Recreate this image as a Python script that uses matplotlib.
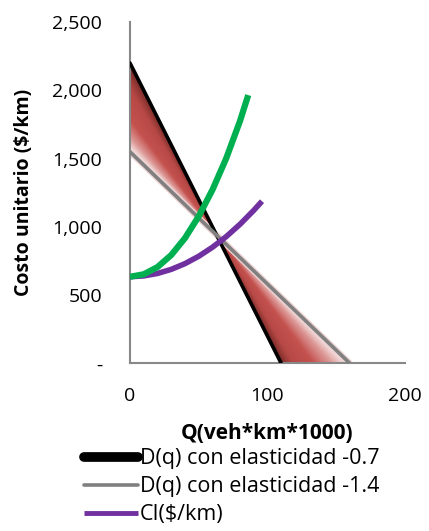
import matplotlib
matplotlib.use("Agg")
import matplotlib.pyplot as plt
import numpy as np
from matplotlib.colors import LinearSegmentedColormap
from matplotlib.lines import Line2D
from matplotlib.ticker import FuncFormatter

plt.rcParams['font.family'] = ['Open Sans', 'DejaVu Sans']

# demand lines (endpoints)
q_d07 = [0, 110]
p_d07 = [2200, 0]
q_d14 = [0, 160]
p_d14 = [1550, 0]

# cost curves
q_green = [0, 10, 20, 30, 40, 50, 60, 70, 80, 86]
c_green = [635, 653, 706, 794, 918, 1078, 1272, 1502, 1775, 1965]
q_ci = [0, 10, 20, 30, 40, 50, 60, 70, 80, 90, 96]
c_ci = [635, 641, 659, 689, 731, 785, 851, 929, 1019, 1121, 1188]

labels = ['D(q) con elasticidad -0.7', 'D(q) con elasticidad -1.4', 'CI($/km)']
xticks = [0, 100, 200]
yticks = [0, 500, 1000, 1500, 2000, 2500]

fig = plt.figure(figsize=(4.29, 5.31), dpi=100)
ax = fig.add_axes([0.303, 0.3155, 0.641, 0.643])

# gradient band between the two demand lines
qq = np.linspace(0, q_d14[-1], 600)
d1 = np.clip(np.interp(qq, q_d07, p_d07), 0, None)
d2 = np.interp(qq, q_d14, p_d14)
band = ax.fill_between(qq, d1, d2, facecolor='none', edgecolor='none')

gx, gy = np.meshgrid(qq, np.linspace(0, p_d07[0], 600))
slope = p_d07[0] / q_d07[-1]
D1 = p_d07[0] - gx * slope
D2 = np.interp(gx, q_d14, p_d14)
den = D1 - D2
den = np.where(np.abs(den) < 1e-6, 1e-6, den)
t = np.clip((D1 - gy) / den, 0, 1)
cmap = LinearSegmentedColormap.from_list(
    'band', [(0, '#642321'), (0.12, '#8f3633'), (0.3, '#b64845'),
             (0.65, '#c4524f'), (0.85, '#dc9896'), (0.95, '#efd3d2'),
             (1, '#f7eeee')])
im = ax.imshow(t, extent=[0, q_d14[-1], 0, p_d07[0]], origin='lower',
               cmap=cmap, vmin=0, vmax=1, aspect='auto', zorder=1,
               interpolation='bilinear')
im.set_clip_path(band.get_paths()[0], transform=ax.transData)

ax.plot(q_d14, p_d14, color='#efd3d3', lw=4.5, zorder=2, solid_capstyle='butt')
ax.plot(q_d07, p_d07, color='black', lw=2.6, zorder=3, solid_capstyle='round')
ax.plot(q_d14, p_d14, color='#808080', lw=2.6, zorder=3, solid_capstyle='butt')
ax.plot(q_ci, c_ci, color='#7030a0', lw=4, zorder=4, solid_capstyle='butt')
ax.plot(q_green, c_green, color='#00b050', lw=4.5, zorder=5, solid_capstyle='butt')

ax.set_xlim(0, 200)
ax.set_ylim(0, 2500)
ax.set_xticks(xticks)
ax.set_yticks(yticks)
ax.yaxis.set_major_formatter(FuncFormatter(lambda v, p: '-' if v == 0 else f'{v:,.0f}'))
ax.tick_params(length=0, labelsize=14, colors='black')
ax.tick_params(axis='y', pad=20)
ax.tick_params(axis='x', pad=17)
for s in ['top', 'right']:
    ax.spines[s].set_visible(False)
for s in ['left', 'bottom']:
    ax.spines[s].set_color('#888888')
    ax.spines[s].set_linewidth(1.5)

ax.set_ylabel('Costo unitario ($/km)', fontsize=14, fontweight='bold', labelpad=13)
ax.set_xlabel('Q(veh*km*1000)', fontsize=15, fontweight='bold', labelpad=13)

handles = [
    Line2D([], [], color='black', lw=7, solid_capstyle='round'),
    Line2D([], [], color='#808080', lw=2.6, solid_capstyle='round'),
    Line2D([], [], color='#7030a0', lw=3.5, solid_capstyle='butt'),
]
leg = fig.legend(handles, labels, loc='upper left', bbox_to_anchor=(0.176, 0.172),
                 frameon=False, fontsize=15.5, handlelength=2.5, handletextpad=0.1,
                 labelspacing=0.33, borderaxespad=0)

fig.savefig('out.png', dpi=100)
